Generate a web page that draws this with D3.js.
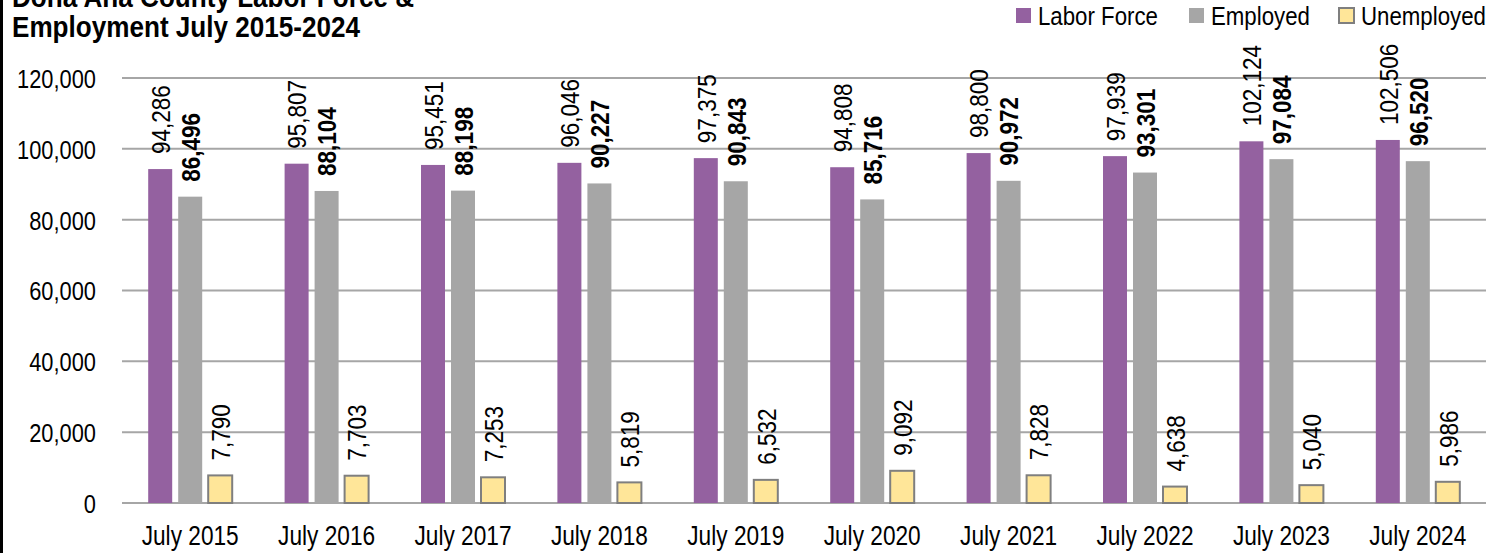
<!DOCTYPE html>
<html>
	<head>
		<script src="https://d3js.org/d3.v7.min.js"></script>
		<style>
			html, body {
				margin: 0;
				padding: 0;
				background: #fff;
			}
			svg text {
				font-family: "Liberation Sans", Arial, sans-serif;
				fill: #000;
			}
		</style>
		<title>Dona Ana County Labor Force</title>
	</head>
	<body>
		<div id="chart"></div>
		<script>
			const width = 1492,
				height = 553;

			// chart data
			const years = ["July 2015", "July 2016", "July 2017", "July 2018", "July 2019",
				"July 2020", "July 2021", "July 2022", "July 2023", "July 2024"];
			const laborForce = [94286, 95807, 95451, 96046, 97375, 94808, 98800, 97939, 102124, 102506];
			const employed = [86496, 88104, 88198, 90227, 90843, 85716, 90972, 93301, 97084, 96520];
			const unemployed = [7790, 7703, 7253, 5819, 6532, 9092, 7828, 4638, 5040, 5986];
			const seriesNames = ["Labor Force", "Employed", "Unemployed"];
			const yTicks = [0, 20000, 40000, 60000, 80000, 100000, 120000];

			const colors = ["#9461a0", "#a6a6a6", "#ffe699"];
			const margin = { left: 122, right: 6, top: 78, bottom: 50 };
			// the original uses a narrow face; squeeze the regular one horizontally
			const narrow = 0.84;

			const svg = d3.select("#chart").append("svg")
				.attr("width", width)
				.attr("height", height);

			const x = d3.scaleBand()
				.domain(years)
				.range([margin.left, width - margin.right]);

			const y = d3.scaleLinear()
				.domain([0, 120000])
				.range([height - margin.bottom, margin.top]);

			const barW = 24, barGap = 6;
			const xs = d3.scaleBand()
				.domain(seriesNames)
				.range([0, barW * 3 + barGap * 2])
				.paddingInner(barGap / (barW + barGap));

			// gridlines
			svg.append("g")
				.selectAll("line")
				.data(yTicks)
				.join("line")
				.attr("x1", margin.left)
				.attr("x2", width - margin.right)
				.attr("y1", d => y(d))
				.attr("y2", d => y(d))
				.attr("stroke", "#a6a6a6")
				.attr("stroke-width", 2);

			// y axis labels
			const yAxis = svg.append("g")
				.attr("transform", `translate(${margin.left - 26},0)`)
				.call(d3.axisLeft(y).tickValues(yTicks).tickFormat(d3.format(",")).tickSize(0).tickPadding(0));
			yAxis.select(".domain").remove();
			yAxis.selectAll("text")
				.style("font-size", "26px")
				.attr("dy", "0.36em")
				.attr("transform", `scale(${narrow},1)`);

			// x axis labels
			const xAxis = svg.append("g")
				.attr("transform", `translate(0,${height - margin.bottom})`)
				.call(d3.axisBottom(x).tickSize(0).tickPadding(0));
			xAxis.select(".domain").remove();
			xAxis.selectAll("text")
				.style("font-size", "27px")
				.attr("dy", null)
				.attr("y", 42)
				.attr("transform", `scale(${narrow},1)`);

			const groupData = years.map((yr, i) => ({
				year: yr,
				values: [laborForce[i], employed[i], unemployed[i]]
			}));

			const groups = svg.append("g")
				.selectAll("g")
				.data(groupData)
				.join("g")
				.attr("transform", d => `translate(${x(d.year) + (x.bandwidth() - xs.range()[1]) / 2},0)`);

			groups.selectAll("rect")
				.data(d => d.values.map((v, k) => ({ name: seriesNames[k], value: v, k: k })))
				.join("rect")
				.attr("x", d => xs(d.name))
				.attr("width", xs.bandwidth())
				.attr("y", d => y(d.value))
				.attr("height", d => y(0) - y(d.value))
				.attr("fill", d => colors[d.k])
				.attr("stroke", d => d.k === 2 ? "#7f7f7f" : "none")
				.attr("stroke-width", 2);

			// rotated value labels
			groups.selectAll("text.val")
				.data(d => d.values.map((v, k) => ({ name: seriesNames[k], value: v, k: k })))
				.join("text")
				.attr("class", "val")
				.attr("transform", d => `translate(${xs(d.name) + xs.bandwidth() / 2 + 1},${y(d.value) - 15}) rotate(-90) scale(0.9,1)`)
				.attr("dy", "0.35em")
				.style("font-size", "25px")
				.style("font-weight", d => d.k === 1 ? "bold" : "normal")
				.text(d => d3.format(",")(d.value));

			// title
			const title = svg.append("text")
				.attr("transform", "translate(12,0) scale(0.9,1)")
				.style("font-size", "29px")
				.style("font-weight", "bold");
			title.append("tspan").attr("x", 0).attr("y", 7).text("Dona Ana County Labor Force &");
			title.append("tspan").attr("x", 0).attr("y", 37).text("Employment July 2015-2024");

			// legend
			const legendX = [1016, 1189, 1339];
			const legend = svg.append("g")
				.selectAll("g")
				.data(seriesNames)
				.join("g")
				.attr("transform", (d, i) => `translate(${legendX[i]},8)`);
			legend.append("rect")
				.attr("width", 15)
				.attr("height", 15)
				.attr("fill", (d, i) => colors[i])
				.attr("stroke", (d, i) => i === 2 ? "#7f7f7f" : "none")
				.attr("stroke-width", 2);
			legend.append("text")
				.attr("transform", "translate(22,0) scale(0.89,1)")
				.attr("y", 8)
				.attr("dy", "0.36em")
				.style("font-size", "25px")
				.text(d => d);

			// left border
			svg.append("line")
				.attr("x1", 1.5).attr("x2", 1.5)
				.attr("y1", 0).attr("y2", height)
				.attr("stroke", "#000")
				.attr("stroke-width", 3);
		</script>
	</body>
</html>
